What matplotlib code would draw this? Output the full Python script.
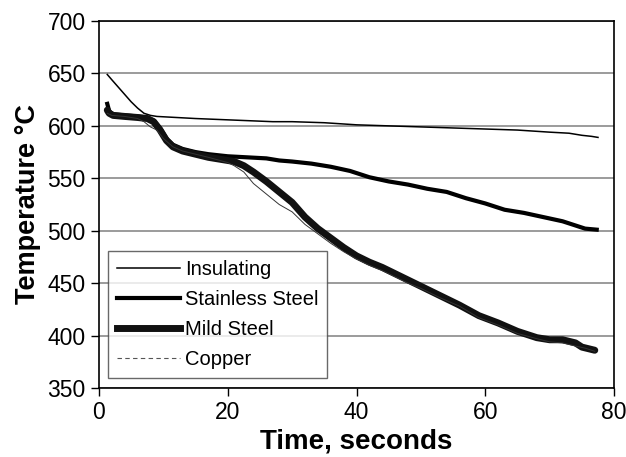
import matplotlib
matplotlib.use("Agg")
import matplotlib.pyplot as plt
from matplotlib.lines import Line2D

plt.rcParams['font.family'] = ['Liberation Sans', 'DejaVu Sans']

# Insulating
ins_t = [1.3, 2, 3, 4, 5, 6, 7, 8, 9, 12, 15, 19, 23, 27, 30, 35, 40, 45, 50, 55, 60, 65, 70, 73, 75, 76.5, 77.5]
ins_T = [649, 644, 637, 630, 623, 617, 612, 610, 609, 608, 607, 606, 605, 604, 604, 603, 601, 600, 599, 598, 597, 596, 594, 593, 591, 590, 589]

# Stainless Steel
ss_t = [1.3, 1.6, 2.2, 4, 6, 7.5, 8.5, 9.5, 10.5, 11.5, 13, 15, 17, 20, 23, 26, 28, 30, 33, 36, 39, 42, 45, 48, 51,
        54, 57, 60, 63, 66, 69, 72, 74, 75.5, 77.3]
ss_T = [621, 614, 611, 610, 609, 608, 605, 598, 588, 582, 578, 575, 573, 571, 570, 569, 567, 566, 564, 561, 557, 551,
        547, 544, 540, 537, 531, 526, 520, 517, 513, 509, 505, 502, 501]

# Mild Steel
ms_t = [1.3, 1.6, 2.2, 4, 6, 7.5, 8.5, 9.5, 10.5, 11.5, 13, 15, 17, 19, 21, 22.5, 24, 26, 28, 30, 32, 34, 36, 38, 40,
        42, 44, 46, 48, 50, 53, 56, 59, 62, 65, 68, 70, 72, 74, 75, 77]
ms_T = [615, 612, 610, 609, 608, 607, 604, 596, 586, 580, 576, 573, 570, 568, 566, 562, 556, 547, 537, 527, 513, 502,
        493, 484, 476, 470, 465, 459, 453, 447, 438, 429, 419, 412, 404, 398, 396, 396, 393, 389, 386]

# Copper
cu_t = [1.3, 2, 4, 6, 7, 8, 9, 10, 11.5, 13, 15, 17, 20, 21, 22.5, 24, 26, 28, 30, 32, 34, 36, 38, 40, 42, 44, 46, 48,
        50, 53, 56, 59, 62, 65, 68, 70, 72, 74, 75.5, 77]
cu_T = [612, 610, 609, 607, 604, 599, 596, 588, 580, 576, 573, 570, 565, 562, 556, 545, 535, 525, 518, 506, 497, 488,
        480, 473, 467, 462, 456, 450, 445, 436, 428, 417, 410, 402, 397, 394, 393, 390, 388, 385]

fig = plt.figure(figsize=(6.26, 4.57), dpi=100)
ax = fig.add_axes([0.158, 0.151, 0.823, 0.803])

ax.plot(ins_t, ins_T, color='black', lw=1.1, zorder=3)
ax.plot(ss_t, ss_T, color='black', lw=3.0, zorder=3)
ax.plot(ms_t, ms_T, color='#111111', lw=5.0, solid_capstyle='round', zorder=3)
ax.plot(cu_t, cu_T, color='#333333', lw=0.7, zorder=4)

ax.set_xlim(0, 80)
ax.set_ylim(350, 700)
ax.set_xticks([0, 20, 40, 60, 80])
ax.set_yticks(range(350, 701, 50))
ax.yaxis.grid(True, color='#808080', lw=1.1)
ax.set_axisbelow(True)
for s in ax.spines.values():
    s.set_color('black')
    s.set_linewidth(1.2)
ax.tick_params(direction='out', length=6, width=1, labelsize=16.5)

ax.set_xlabel('Time, seconds', fontsize=20, fontweight='bold', labelpad=3)
ax.set_ylabel('Temperature °C', fontsize=19.5, fontweight='bold', labelpad=5)

handles = [Line2D([], [], color='black', lw=1.1),
           Line2D([], [], color='black', lw=3.0),
           Line2D([], [], color='#111111', lw=5.0),
           Line2D([], [], color='#555555', lw=0.8, ls=(0, (4, 3)))]
labels = ['Insulating', 'Stainless Steel', 'Mild Steel', 'Copper']
leg = ax.legend(handles, labels, loc='lower left', bbox_to_anchor=(0.018, 0.027), borderaxespad=0,
                fontsize=14.5, handlelength=3.1, handletextpad=0.25, labelspacing=0.55,
                fancybox=False, frameon=True, borderpad=0.45)
leg.get_frame().set_edgecolor('#444444')
leg.get_frame().set_linewidth(1.0)

fig.savefig('out.png', dpi=100)
